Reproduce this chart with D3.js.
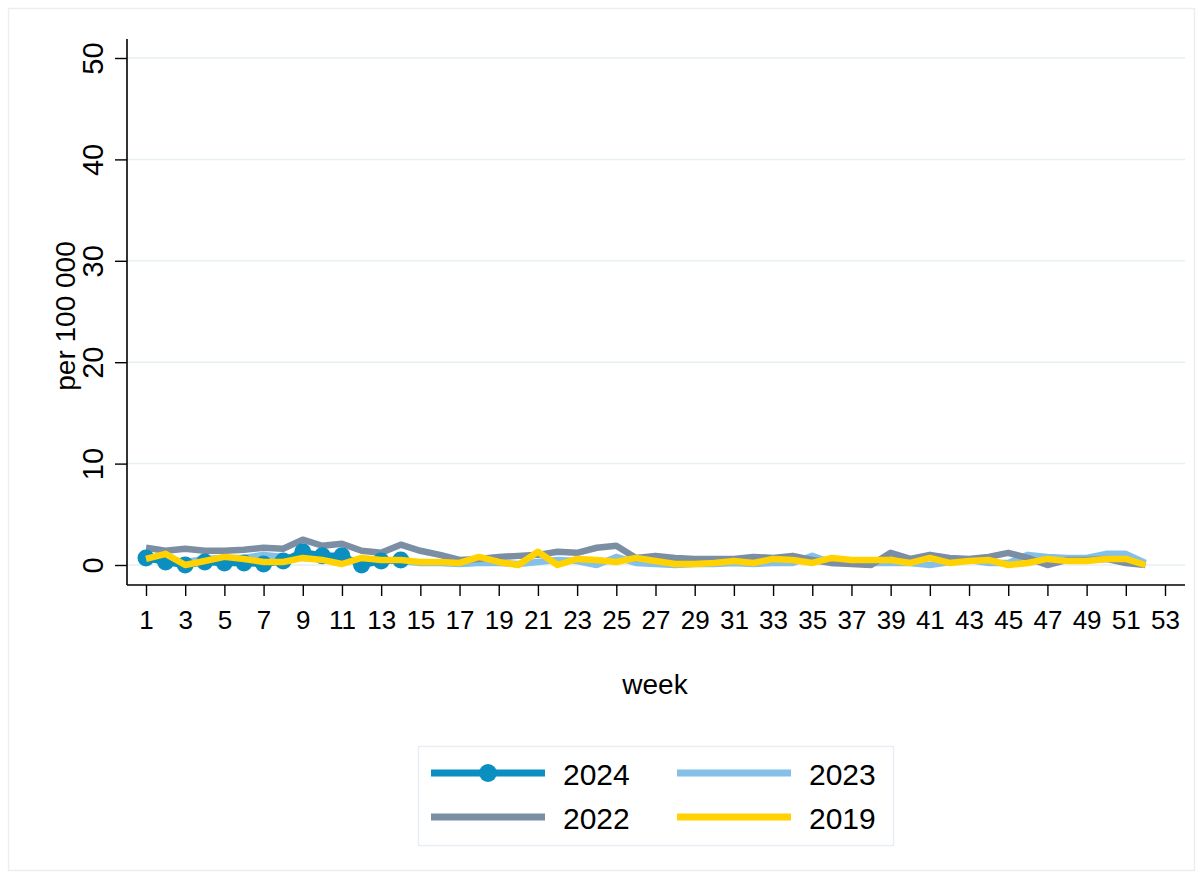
<!DOCTYPE html>
<html>
<head>
<meta charset="utf-8">
<script src="https://cdn.jsdelivr.net/npm/d3@7"></script>
<style>
  html, body { margin: 0; padding: 0; background: #fff; }
  svg { display: block; font-family: Arial, "Liberation Sans", sans-serif; }
</style>
</head>
<body>
<svg id="chart" width="1202" height="879"></svg>
<script>
// Weekly rate per 100 000, by season
const weeks = d3.range(1, 53);
const weeks2024 = d3.range(1, 15);
const values2024 = [0.7, 0.3, 0.0, 0.3, 0.2, 0.2, 0.1, 0.4, 1.3, 0.9, 0.9, 0.0, 0.4, 0.5];
const values2023 = [0.5, 0.6, 0.3, 0.6, 0.7, 0.7, 1.0, 0.8, 0.7, 0.6, 0.5, 0.4, 0.5, 0.4,
  0.2, 0.2, 0.1, 0.2, 0.2, 0.1, 0.3, 0.5, 0.4, 0.0, 0.8, 0.2,
  0.1, 0.0, 0.1, 0.1, 0.2, 0.1, 0.2, 0.2, 0.9, 0.2, 0.2, 0.2, 0.2, 0.2,
  0.0, 0.3, 0.5, 0.2, 0.2, 1.0, 0.8, 0.7, 0.7, 1.1, 1.1, 0.2];
const values2022 = [1.7, 1.4, 1.6, 1.4, 1.4, 1.5, 1.7, 1.6, 2.5, 1.9, 2.1, 1.4, 1.2, 2.0,
  1.4, 1.0, 0.5, 0.6, 0.8, 0.9, 1.0, 1.3, 1.2, 1.7, 1.9, 0.7,
  0.9, 0.7, 0.6, 0.6, 0.6, 0.8, 0.7, 0.9, 0.5, 0.2, 0.1, 0.0, 1.2, 0.6,
  1.0, 0.7, 0.6, 0.8, 1.2, 0.7, 0.0, 0.5, 0.5, 0.6, 0.2, 0.0];
const values2019 = [0.6, 1.1, 0.0, 0.4, 0.8, 0.6, 0.3, 0.3, 0.7, 0.5, 0.1, 0.7, 0.5, 0.5,
  0.3, 0.3, 0.2, 0.8, 0.3, 0.0, 1.3, 0.0, 0.6, 0.5, 0.3, 0.7,
  0.4, 0.1, 0.1, 0.2, 0.4, 0.2, 0.6, 0.5, 0.2, 0.7, 0.5, 0.5, 0.5, 0.2,
  0.7, 0.2, 0.4, 0.5, 0.0, 0.2, 0.6, 0.4, 0.4, 0.6, 0.6, 0.0];
const yTicks = [0, 10, 20, 30, 40, 50];
const xTicks = d3.range(1, 54, 2);

const colors = { y2024: "#0b8ec0", y2023: "#84c0e8", y2022: "#7b8ea4", y2019: "#ffd200" };

const svg = d3.select("#chart");

// outer frame
svg.append("rect").attr("x", 8.5).attr("y", 8.5).attr("width", 1186).attr("height", 862)
  .attr("fill", "#fff").attr("stroke", "#e8eef3").attr("stroke-width", 1.5);

const x = d3.scaleLinear().domain([1, 53]).range([146, 1165]);
const y = d3.scaleLinear().domain([0, 50]).range([565, 58]);
const plotLeft = 127, plotRight = 1185, plotTop = 39, plotBottom = 585;

// grid
svg.append("g").selectAll("line").data(yTicks).join("line")
  .attr("x1", plotLeft).attr("x2", plotRight)
  .attr("y1", d => y(d)).attr("y2", d => y(d))
  .attr("stroke", "#e6eff1").attr("stroke-width", 1.5);

// y axis
const yAxis = svg.append("g").attr("transform", `translate(${plotLeft},0)`)
  .call(d3.axisLeft(y).tickValues(yTicks).tickSize(12).tickPadding(8));
yAxis.select(".domain").remove();
yAxis.append("line").attr("x1", 0).attr("x2", 0).attr("y1", plotTop).attr("y2", plotBottom)
  .attr("stroke", "#000").attr("stroke-width", 1.6);
yAxis.selectAll(".tick line").attr("stroke", "#000").attr("stroke-width", 1.4);
yAxis.selectAll(".tick text")
  .attr("font-size", 29).attr("fill", "#000")
  .attr("transform", "rotate(-90, -24, 0)")
  .attr("x", -24).attr("dy", 0).attr("y", 0)
  .attr("text-anchor", "middle").attr("dominant-baseline", "auto");

// x axis
const xAxis = svg.append("g").attr("transform", `translate(0,${plotBottom})`)
  .call(d3.axisBottom(x).tickValues(xTicks).tickSize(11).tickPadding(15));
xAxis.select(".domain").remove();
xAxis.append("line").attr("x1", plotLeft).attr("x2", plotRight).attr("y1", 0).attr("y2", 0)
  .attr("stroke", "#000").attr("stroke-width", 1.6);
xAxis.selectAll(".tick line").attr("stroke", "#000").attr("stroke-width", 1.4);
xAxis.selectAll(".tick text").attr("font-size", 26).attr("fill", "#000");

// axis titles
svg.append("text").attr("transform", "translate(75,316) rotate(-90)")
  .attr("text-anchor", "middle").attr("font-size", 28).text("per 100 000");
svg.append("text").attr("x", 655).attr("y", 694)
  .attr("text-anchor", "middle").attr("font-size", 28).text("week");

// series
const line = d3.line().x(d => x(d[0])).y(d => y(d[1])).curve(d3.curveLinear);
const pairs = (ws, vs) => ws.map((w, i) => [w, vs[i]]);

const g = svg.append("g").attr("fill", "none")
  .attr("stroke-linejoin", "round").attr("stroke-linecap", "butt");

g.append("path").datum(pairs(weeks, values2023)).attr("d", line)
  .attr("stroke", colors.y2023).attr("stroke-width", 6.5);
g.append("path").datum(pairs(weeks, values2022)).attr("d", line)
  .attr("stroke", colors.y2022).attr("stroke-width", 6.5);
g.append("path").datum(pairs(weeks2024, values2024)).attr("d", line)
  .attr("stroke", colors.y2024).attr("stroke-width", 6.5);
svg.append("g").selectAll("circle").data(pairs(weeks2024, values2024)).join("circle")
  .attr("cx", d => x(d[0])).attr("cy", d => y(d[1])).attr("r", 8.5)
  .attr("fill", colors.y2024);
svg.append("path").datum(pairs(weeks, values2019)).attr("d", line)
  .attr("fill", "none").attr("stroke", colors.y2019).attr("stroke-width", 6.5)
  .attr("stroke-linejoin", "round");

// legend
const legend = svg.append("g");
legend.append("rect").attr("x", 418.5).attr("y", 746.5).attr("width", 475).attr("height", 99)
  .attr("fill", "#fff").attr("stroke", "#e8eef3").attr("stroke-width", 1.5);
const legendItems = [
  { label: "2024", color: colors.y2024, col: 0, row: 0, marker: true },
  { label: "2023", color: colors.y2023, col: 1, row: 0 },
  { label: "2022", color: colors.y2022, col: 0, row: 1 },
  { label: "2019", color: colors.y2019, col: 1, row: 1 }
];
const li = legend.selectAll("g.item").data(legendItems).join("g")
  .attr("class", "item")
  .attr("transform", d => `translate(${431 + d.col * 246},${773 + d.row * 44})`);
li.append("line").attr("x1", 0).attr("x2", 114).attr("y1", 0).attr("y2", 0)
  .attr("stroke", d => d.color).attr("stroke-width", 7);
li.filter(d => d.marker).append("circle").attr("cx", 57).attr("cy", 0).attr("r", 9)
  .attr("fill", d => d.color);
li.append("text").attr("x", 132).attr("y", 12).attr("font-size", 30).attr("fill", "#000")
  .text(d => d.label);
</script>
</body>
</html>
